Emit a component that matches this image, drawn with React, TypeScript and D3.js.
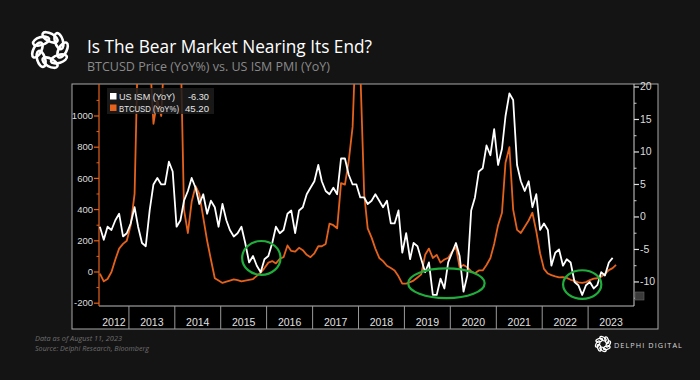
import React from "react";
import * as d3 from "d3";

// ---------- DATA ----------
const title = "Is The Bear Market Nearing Its End?";
const subtitle = "BTCUSD Price (YoY%) vs. US ISM PMI (YoY)";
const footnote1 = "Data as of August 11, 2023";
const footnote2 = "Source: Delphi Research, Bloomberg";
const brand = "DELPHI DIGITAL";

const seriesNames = ["US ISM (YoY)", "BTCUSD (YoY%)"];
const lastValues = ["-6.30", "45.20"];

const yearLabels = ["2012", "2013", "2014", "2015", "2016", "2017", "2018", "2019", "2020", "2021", "2022", "2023"];
const leftTicks = [-200, 0, 200, 400, 600, 800, 1000];
const rightTicks = [-10, -5, 0, 5, 10, 15, 20];

// monthly, starting May 2012
const seriesStart = "2012-05";

// US ISM PMI YoY change (points), May 2012 .. Jul 2023
const ismYoY = [
  -1.5, -3.5, -1.5, -2.0, -0.5, 0.5, -3.0, -2.5,
  -1.0, 1.5, -1.5, -4.0, -4.5, 1.0, 5.0, 6.0, 5.0, 5.0, 8.5, 7.0,
  -1.5, -0.5, 2.5, 4.0, 6.0, 4.5, 2.0, 3.5, 0.5, 2.5, 1.5, -1.5,
  2.0, -0.5, -2.0, -3.0, -2.5, -1.5, -4.0, -7.0, -6.0, -7.5, -8.5, -6.5,
  -6.0, -4.0, -1.5, -2.5, -2.0, 0.5, 1.0, -2.5, 1.0, 1.5, 3.5, 4.5,
  5.5, 8.0, 5.5, 4.0, 3.5, 4.5, 3.5, 9.0, 9.0, 6.5, 5.0, 5.0,
  3.0, 3.0, 2.0, 2.5, 3.5, 2.5, 1.5, 2.5, -1.0, -1.0, 1.0, -5.5,
  -2.5, -6.5, -4.0, -4.5, -6.5, -8.5, -7.0, -12.0, -12.0, -9.5, -11.0, -7.0,
  -5.5, -4.0, -6.0, -11.5, -9.0, 1.0, 3.0, 7.0, 7.5, 11.0, 9.5, 13.5,
  8.0, 10.5, 15.5, 19.0, 18.0, 8.0, 5.5, 4.0, 5.5, 1.5, 3.5, -2.0,
  -1.0, -2.0, -7.5, -5.5, -5.0, -7.5, -6.5, -7.0, -10.0, -10.5, -12.0, -10.5,
  -10.0, -11.0, -10.5, -8.5, -9.0, -7.0, -6.3,
];

// BTCUSD YoY %, May 2012 .. Aug 2023
const btcYoY = [
  -10, -60, -45, 0, 80, 150, 180, 200,
  300, 500, 1500, 2500, 1300, 1400, 950, 1100, 1000, 1500, 5000, 5000,
  3000, 1500, 400, 250, 450, 550, 500, 350, 200, 80, -40, -55,
  -70, -62, -55, -48, -52, -60, -55, -50, -45, -25, -5, 25,
  60, 70, 55, 85, 95, 170, 135, 130, 155, 140, 110, 95,
  120, 165, 165, 180, 310, 300, 280, 570, 560, 710, 930, 1600,
  1300, 500, 280, 220, 150, 90, 70, 40, 25, 10, -28, -75,
  -75, -65, -55, -35, -15, 110, 150, 90, 110, 60, 80, 90,
  130, 160, 30, 45, 30, 5, -8, 10, 10, 45, 90, 180,
  300, 380, 700, 800, 400, 270, 250, 290, 330, 380, 260, 120,
  20, -10, -20, -28, -35, -33, -38, -50, -57, -66, -70, -65,
  -52, -42, -40, -30, -12, 12, 25, 45.2,
];

// highlighted troughs (date center, ISM value center)
const highlightCenters = [
  { date: "2015-11-20", value: -6.3 },
  { date: "2019-12-01", value: -10.2 },
  { date: "2022-11-15", value: -10.4 },
];
const highlightSpanMonths = [5, 10, 5];
const highlightSpanValue = [5.2, 4.6, 4.4];

// ---------- LAYOUT ----------
const W = 700;
const H = 380;
const X0 = 99;
const X1 = 634;
const Y0 = 84;
const Y1 = 306;
const FRAME = { l: 72, r: 658, t: 84, b: 329 };

const ORANGE = "#e5621c";
const FONT = "'Liberation Sans', Arial, sans-serif";
const TFONT = "'Open Sans', 'Noto Sans', sans-serif";

const parseMonth = d3.timeParse("%Y-%m");
const parseDay = d3.timeParse("%Y-%m-%d");

function Logo({ cx, cy, r, sw }: { cx: number; cy: number; r: number; sw: number }) {
  const loops = d3.range(8).map((i) => (i * 360) / 8);
  return (
    <g transform={`translate(${cx},${cy})`} fill="none" stroke="#ffffff" strokeWidth={sw}>
      {loops.map((a, i) => (
        <ellipse
          key={i}
          cx={0}
          cy={-r * 0.7}
          rx={r * 0.46}
          ry={r * 0.22}
          transform={`rotate(${a}) rotate(28 0 ${-r * 0.7})`}
        />
      ))}
    </g>
  );
}

export default function App() {
  const start = parseMonth(seriesStart) as Date;
  const x = d3.scaleTime().domain([new Date(2012, 4, 8), new Date(2024, 0, 1)]).range([X0, X1]);
  const yL = d3.scaleLinear().domain([-218, 1205]).range([Y1, Y0]);
  const yR = d3.scaleLinear().domain([-13.7, 20.46]).range([Y1, Y0]);

  const ismPts = ismYoY.map((v, i) => ({ d: d3.timeDay.offset(d3.timeMonth.offset(start, i), 14), v }));
  const btcPts = btcYoY.map((v, i) => ({
    d: i === btcYoY.length - 1 ? new Date(2023, 7, 11) : d3.timeDay.offset(d3.timeMonth.offset(start, i), 14),
    v,
  }));

  const ismLine = d3
    .line<{ d: Date; v: number }>()
    .x((p) => x(p.d))
    .y((p) => yR(p.v));
  const btcLine = d3
    .line<{ d: Date; v: number }>()
    .x((p) => x(p.d))
    .y((p) => yL(p.v));

  const yearStarts = yearLabels.map((y) => new Date(+y, 0, 1));
  const yearLabelX = yearLabels.map((y, i) => {
    const a = Math.max(x(yearStarts[i]), X0);
    const b = Math.min(x(new Date(+y + 1, 0, 1)), X1);
    return (a + b) / 2;
  });

  const leftMinor = d3.range(-200, 1201, 100).filter((v) => v % 200 !== 0);
  const rightMinor = d3.range(-12.5, 20.1, 2.5).filter((v) => v % 5 !== 0);

  return (
    <svg
      width={W}
      height={H}
      style={{ position: "absolute", left: 0, top: 0, display: "block" }}
      xmlns="http://www.w3.org/2000/svg"
    >
      <defs>
        <clipPath id="plotclip">
          <rect x={X0} y={Y0} width={X1 - X0} height={Y1 - Y0} />
        </clipPath>
      </defs>
      <rect x={0} y={0} width={W} height={H} fill="#141414" />

      {/* header */}
      <Logo cx={50} cy={50} r={18} sw={2.6} />
      <text x={87} y={53} fill="#ffffff" fontFamily={TFONT} fontSize={19} textLength={285} lengthAdjust="spacingAndGlyphs">
        {title}
      </text>
      <text x={87} y={71} fill="#8a8a8a" fontFamily={TFONT} fontSize={12.5} textLength={243} lengthAdjust="spacingAndGlyphs">
        {subtitle}
      </text>

      {/* chart frame */}
      <rect x={FRAME.l} y={FRAME.t} width={FRAME.r - FRAME.l} height={FRAME.b - FRAME.t} fill="#000000" stroke="#a8a8a8" strokeWidth={1} />

      {/* x axis band */}
      <line x1={X0} x2={X1} y1={Y1} y2={Y1} stroke="#bdbdbd" strokeWidth={1} />
      {yearStarts.slice(1).map((d, i) => (
        <line key={i} x1={x(d)} x2={x(d)} y1={Y1} y2={FRAME.b} stroke="#9a9a9a" strokeWidth={1} />
      ))}
      {yearLabels.map((l, i) => (
        <text key={l} x={yearLabelX[i]} y={326} fill="#e0e0e0" fontFamily={FONT} fontSize={10.5} textAnchor="middle">
          {l}
        </text>
      ))}

      {/* left axis */}
      <line x1={X0} x2={X0} y1={Y0} y2={Y1} stroke={ORANGE} strokeWidth={1.2} />
      {leftMinor.map((v) => (
        <line key={v} x1={X0 - 2.5} x2={X0} y1={yL(v)} y2={yL(v)} stroke={ORANGE} strokeWidth={1} />
      ))}
      {leftTicks.map((v) => (
        <g key={v}>
          <line x1={X0 - 5} x2={X0} y1={yL(v)} y2={yL(v)} stroke={ORANGE} strokeWidth={1.2} />
          <text x={X0 - 6} y={yL(v) + 3.3} fill="#dcdcdc" fontFamily={FONT} fontSize={9.5} textAnchor="end">
            {v}
          </text>
        </g>
      ))}

      {/* right axis */}
      <line x1={X1} x2={X1} y1={Y0} y2={Y1} stroke="#cfcfcf" strokeWidth={1} />
      {rightMinor.map((v) => (
        <line key={v} x1={X1} x2={X1 + 2.5} y1={yR(v)} y2={yR(v)} stroke="#cfcfcf" strokeWidth={1} />
      ))}
      {rightTicks.map((v) => (
        <g key={v}>
          <line x1={X1} x2={X1 + 5} y1={yR(v)} y2={yR(v)} stroke="#e0e0e0" strokeWidth={1.2} />
          <text x={X1 + 6} y={yR(v) + 3.5} fill="#dcdcdc" fontFamily={FONT} fontSize={10.5}>
            {v}
          </text>
        </g>
      ))}
      <rect x={X1 + 1} y={292} width={9} height={8} fill="#3a3a3a" stroke="#666" strokeWidth={0.6} />

      {/* series */}
      <g clipPath="url(#plotclip)">
        <path d={btcLine(btcPts) as string} fill="none" stroke={ORANGE} strokeWidth={1.8} strokeLinejoin="round" />
        <path d={ismLine(ismPts) as string} fill="none" stroke="#ffffff" strokeWidth={1.8} strokeLinejoin="round" />
      </g>

      {/* legend */}
      <g>
        <rect x={107} y={88} width={107} height={26} fill="#1c1c1c" opacity={0.85} />
        <rect x={110} y={93} width={6.5} height={6.5} fill="#ffffff" />
        <rect x={110} y={104.5} width={6.5} height={6.5} fill={ORANGE} />
        <text x={119} y={100} fill="#e6e6e6" fontFamily={FONT} fontSize={8.2} textLength={56} lengthAdjust="spacingAndGlyphs">{seriesNames[0]}</text>
        <text x={119} y={111.5} fill="#e6e6e6" fontFamily={FONT} fontSize={8.2} textLength={60} lengthAdjust="spacingAndGlyphs">{seriesNames[1]}</text>
        <text x={188} y={100} fill="#e6e6e6" fontFamily={FONT} fontSize={8.2} textLength={21} lengthAdjust="spacingAndGlyphs">{lastValues[0]}</text>
        <text x={185} y={111.5} fill="#e6e6e6" fontFamily={FONT} fontSize={8.2} textLength={24} lengthAdjust="spacingAndGlyphs">{lastValues[1]}</text>
      </g>

      {/* green highlight ellipses */}
      {highlightCenters.map((h, i) => {
        const c = parseDay(h.date) as Date;
        const cx = x(c);
        const rx = (x(d3.timeMonth.offset(c, highlightSpanMonths[i])) - x(d3.timeMonth.offset(c, -highlightSpanMonths[i]))) / 2;
        const cy = yR(h.value);
        const ry = yR(h.value - highlightSpanValue[i] / 2) - cy;
        return <ellipse key={i} cx={cx} cy={cy} rx={rx} ry={ry} fill="none" stroke="#1fae3c" strokeWidth={2.2} />;
      })}

      {/* footer */}
      <text x={35} y={341} fill="#6f6f6f" fontFamily={TFONT} fontStyle="italic" fontSize={8} textLength={87} lengthAdjust="spacingAndGlyphs">
        {footnote1}
      </text>
      <text x={35} y={351} fill="#6f6f6f" fontFamily={TFONT} fontStyle="italic" fontSize={8} textLength={114} lengthAdjust="spacingAndGlyphs">
        {footnote2}
      </text>
      <Logo cx={603} cy={344} r={7.5} sw={1.3} />
      <text x={614} y={347.5} fill="#d8d8d8" fontFamily={TFONT} fontSize={8} letterSpacing={1.2} textLength={69} lengthAdjust="spacingAndGlyphs">
        {brand}
      </text>
    </svg>
  );
}
